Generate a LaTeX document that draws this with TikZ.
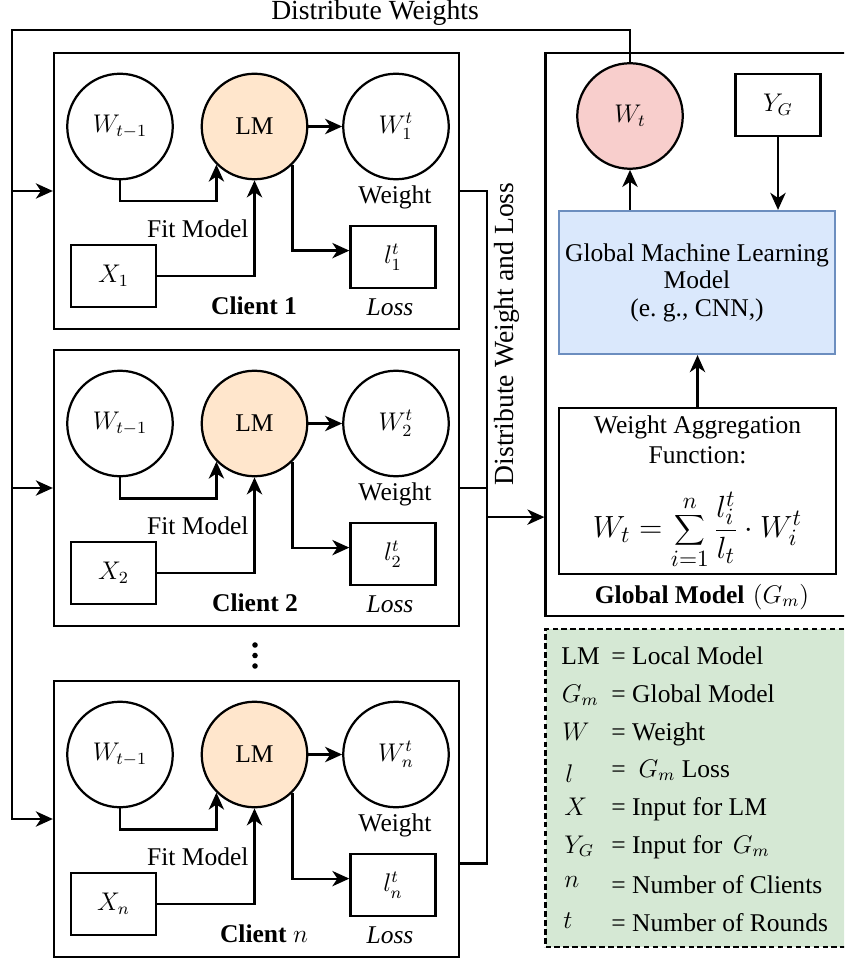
\documentclass[tikz,border=0pt]{standalone}
\usepackage{fontspec}
\setmainfont{Liberation Serif}
\usetikzlibrary{arrows.meta}

\definecolor{lmfill}{HTML}{FFE6CC}
\definecolor{wtfill}{HTML}{F8CECC}
\definecolor{mlfill}{HTML}{DAE8FC}
\definecolor{mldraw}{HTML}{6C8EBF}
\definecolor{keyfill}{HTML}{D5E8D4}

\begin{document}
\begin{tikzpicture}[x=0.47pt, y=-0.47pt,
  every node/.style={font=\fontsize{12}{13}\selectfont},
  ln/.style={line width=1.05pt},
  arr/.style={line width=1.05pt, -{Stealth[length=8pt,width=7.2pt,inset=2.4pt]}},
  ring/.style={circle, draw, line width=1.05pt, minimum size=49.6pt, inner sep=0pt},
  sbox/.style={draw, line width=1.05pt, minimum width=40pt, minimum height=29.1pt, inner sep=0pt},
  txt/.style={inner sep=0pt},
  flowlab/.style={inner sep=0pt, font=\fontsize{13}{14}\selectfont}]

\useasboundingbox (0,0) rectangle (844,961);
\clip (0,0) rectangle (844,961);

% ---------- clients ----------
\foreach \k/\d/\lab/\cx in {1/0/1/254, 2/297/2/255, n/628/$n$/264} {
  \node[draw, ln, minimum width=190.4pt, minimum height=129.8pt, inner sep=0pt] (c\k) at (256.5,{191+\d}) {};
  \node[ring] (wp\k) at (120,{126.5+\d}) {$W_{t-1}$};
  \node[ring, fill=lmfill] (lm\k) at (254.5,{126.5+\d}) {LM};
  \node[ring] (wn\k) at (396,{126.5+\d}) {$W_{\k}^{t}$};
  \node[sbox] (x\k) at (113.5,{276+\d}) {$X_{\k}$};
  \node[sbox] (l\k) at (393,{257+\d}) {$l_{\k}^{t}$};
  \node[txt, anchor=east] (fit\k) at (249,{229+\d}) {Fit Model};
  \node[txt] (wl\k) at (395,{197+\d}) {Weight};
  \node[txt] (loss\k) at (390,{307+\d}) {\textit{Loss}};
  \node[txt] (cl\k) at (\cx,{306+\d}) {\textbf{Client \lab}};
  \draw[arr] (wp\k.south) -- ++(0,21) -| (lm\k.225);
  \draw[arr] (x\k.east) -| (lm\k.south);
  \draw[arr] (lm\k.east) -- (wn\k.west);
  \draw[arr] (lm\k.-45) |- ([yshift=3pt]l\k.west);
}

% vertical ellipsis between client 2 and client n
\foreach \yy in {645,655.5,666} \fill (255,\yy) circle (1.3pt);

% ---------- global model ----------
\node[draw, ln, minimum width=142.4pt, minimum height=264.6pt, inner sep=0pt] (gbox) at (697,334.5) {};
\node[ring, fill=wtfill] (wt) at (630,116) {$W_t$};
\node[sbox] (yg) at (778,105) {$Y_G$};
\node[draw=mldraw, fill=mlfill, line width=1.05pt, minimum width=129.7pt, minimum height=67.2pt,
      inner sep=0pt, align=center, font=\fontsize{12}{12.9}\selectfont] (gml) at (697,282.5)
      {Global Machine Learning\\Model\\(e.\ g., CNN,)};
\node[draw, ln, minimum width=130.2pt, minimum height=78.2pt, inner sep=0pt] (wa) at (697.5,491) {};
\node[txt, align=center, font=\fontsize{12}{14}\selectfont] (watxt) at (697.5,440) {Weight Aggregation\\Function:};
\node[txt, font=\fontsize{15}{17}\selectfont] (wafx) at (697.5,530)
      {$\displaystyle W_t=\sum_{i=1}^{n}\frac{l_i^t}{l_t}\cdot W_i^t$};
\node[txt, anchor=base] (gmlab) at (702,603) {\textbf{Global Model}\hspace{4pt}$(G_m)$};

\draw[arr] (wt |- gml.north) -- (wt.south);
\draw[arr] (yg.south) -- (yg.south |- gml.north);
\draw[arr] (wa.north) -- (wa.north |- gml.south);

% ---------- distribution and collection lines ----------
\coordinate (tl) at (12,30);
\coordinate (bus) at (487,190);
\draw[arr] (wt.north) |- (tl) |- (cn.west);
\draw[arr] (tl |- c1.west) -- (c1.west);
\draw[arr] (tl |- c2.west) -- (c2.west);
\coordinate (cnout) at ([yshift=-20.9pt]cn.east);
\draw[ln] (c1.east) -| (bus |- cnout) -- (cnout);
\draw[ln] (c2.east) -- (bus |- c2.east);
\coordinate (gin) at ([yshift=47pt]gbox.south west);
\draw[arr] (bus |- gin) -- (gin);

\node[flowlab, anchor=base] (dwlab) at (375,20) {Distribute Weights};
\node[flowlab, rotate=90] (dwl) at (506.5,334) {Distribute Weight and Loss};

% ---------- key ----------
\node[draw, ln, dash pattern=on 2.6pt off 1.6pt, fill=keyfill, minimum width=142.4pt,
      minimum height=149.5pt, inner sep=0pt] (key) at (697,788) {};
\foreach \sx/\sy/\sym/\ty/\txt [count=\i] in {
    561/664/LM/664/= Local Model,
    561.5/702/$G_m$/702/= Global Model,
    562/740/$W$/740/= Weight,
    565/782/$l$/777/=\hspace{6pt}$G_m$ Loss,
    564/815/$X$/815/= Input for LM,
    564/853/$Y_G$/853/= Input for\hspace{5pt}$G_m$,
    564/887/$n$/893/= Number of Clients,
    563/928/$t$/931/= Number of Rounds} {
  \node[txt, anchor=base west] (ksym\i) at (\sx,\sy) {\sym};
  \node[txt, anchor=base west] (ktxt\i) at (611,\ty) {\txt};
}
\end{tikzpicture}
\end{document}
